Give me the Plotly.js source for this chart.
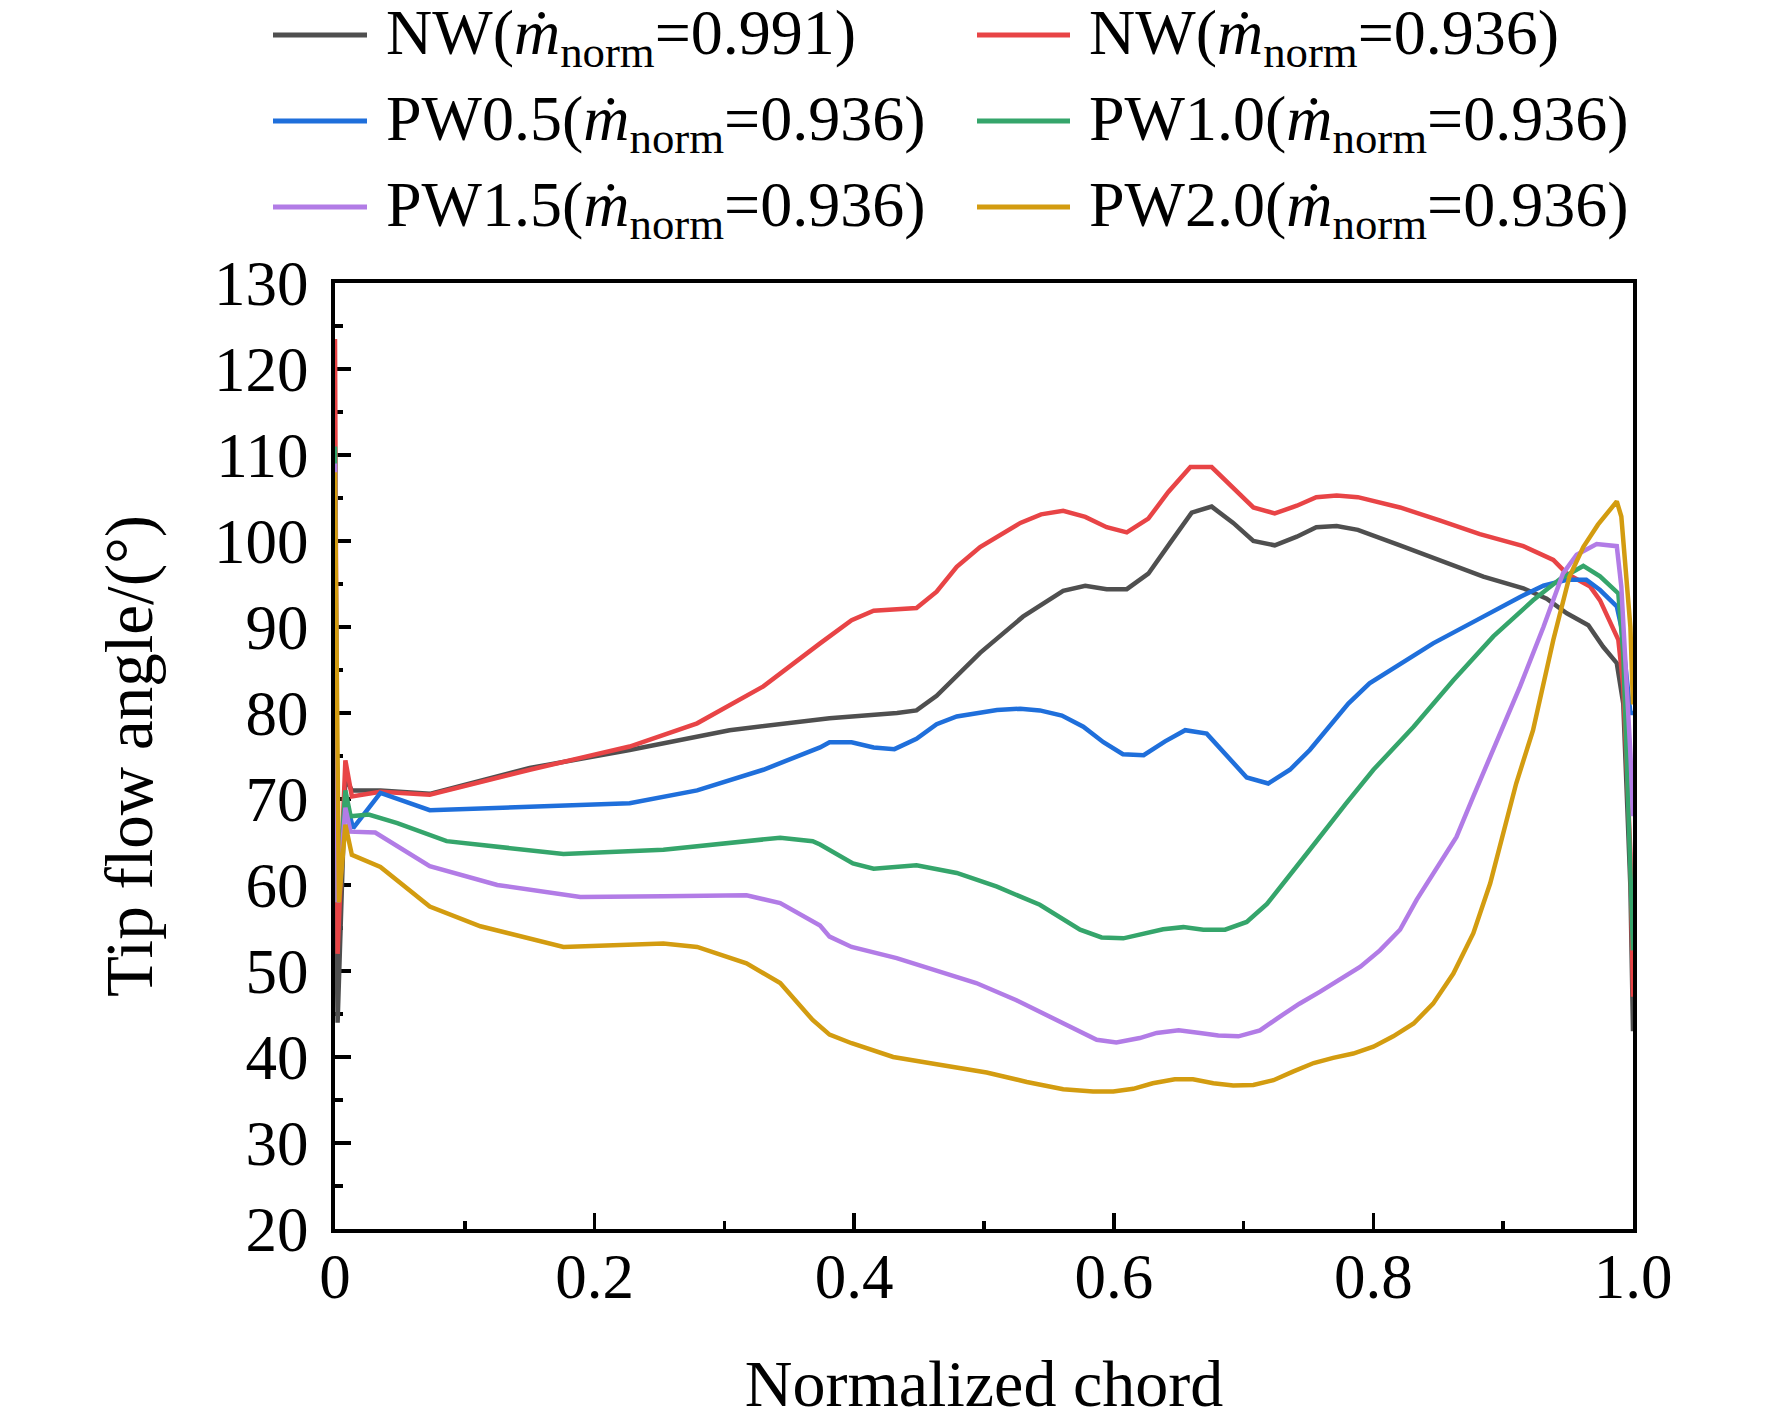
<!DOCTYPE html>
<html>
<head>
<meta charset="utf-8">
<script src="https://cdn.plot.ly/plotly-3.0.1.min.js"></script>
<style>
  html, body { margin: 0; padding: 0; background: #fff; }
  #chart { width: 1772px; height: 1425px; }
</style>
</head>
<body>
<div id="chart"></div>
<script>
// values
const nw991X = [0, 0.002, 0.008, 0.013, 0.035, 0.073, 0.15, 0.227, 0.304, 0.381, 0.433, 0.448, 0.4635, 0.497, 0.53, 0.561, 0.578, 0.5945, 0.61, 0.6266, 0.643, 0.66, 0.6754, 0.692, 0.7075, 0.724, 0.741, 0.756, 0.7717, 0.788, 0.8205, 0.851, 0.8847, 0.9155, 0.9335, 0.949, 0.9656, 0.977, 0.9875, 0.9925, 0.998, 1.0];
const nw991Y = [70, 44, 72.5, 71, 71.0, 70.6, 73.6, 75.7, 78.0, 79.4, 80.0, 80.3, 82.0, 87.0, 91.2, 94.2, 94.8, 94.4, 94.4, 96.2, 99.7, 103.3, 104.0, 102.1, 100.0, 99.5, 100.5, 101.6, 101.75, 101.3, 99.5, 97.8, 95.85, 94.5, 93.3, 91.6, 90.2, 87.7, 85.8, 81.1, 59.8, 43];

const nw936X = [0, 0.002, 0.008, 0.013, 0.035, 0.073, 0.15, 0.227, 0.279, 0.33, 0.3737, 0.398, 0.415, 0.448, 0.4635, 0.479, 0.497, 0.528, 0.544, 0.561, 0.578, 0.5945, 0.61, 0.6266, 0.642, 0.659, 0.6754, 0.692, 0.7075, 0.724, 0.741, 0.756, 0.7717, 0.788, 0.8205, 0.851, 0.882, 0.9155, 0.928, 0.9386, 0.949, 0.967, 0.9746, 0.9887, 0.9925, 0.998, 1.0];
const nw936Y = [123.5, 52, 74.5, 70.3, 70.85, 70.5, 73.4, 76.1, 78.8, 83.1, 88.1, 90.8, 91.9, 92.2, 94.1, 97.0, 99.3, 102.1, 103.1, 103.5, 102.8, 101.6, 101.0, 102.6, 105.7, 108.6, 108.6, 106.1, 103.9, 103.2, 104.1, 105.1, 105.3, 105.1, 103.9, 102.4, 100.8, 99.4, 98.6, 97.8, 96.2, 94.7, 93.1, 88.5, 83.1, 63.7, 47];

const pw05X = [0, 0.003, 0.008, 0.014, 0.035, 0.073, 0.15, 0.227, 0.279, 0.33, 0.3737, 0.381, 0.398, 0.415, 0.431, 0.448, 0.4635, 0.479, 0.51, 0.528, 0.543, 0.56, 0.5765, 0.592, 0.607, 0.623, 0.6395, 0.655, 0.6716, 0.687, 0.7024, 0.719, 0.7357, 0.751, 0.7807, 0.797, 0.815, 0.846, 0.8796, 0.913, 0.931, 0.949, 0.964, 0.9746, 0.9875, 0.991, 0.998, 1.0];
const pw05Y = [88, 60, 70, 66.6, 70.7, 68.7, 69.1, 69.5, 71.0, 73.4, 76.0, 76.6, 76.6, 76.0, 75.8, 77.0, 78.7, 79.6, 80.35, 80.5, 80.3, 79.7, 78.4, 76.6, 75.2, 75.1, 76.7, 78.0, 77.6, 75.0, 72.5, 71.8, 73.4, 75.7, 81.1, 83.45, 85.2, 88.1, 90.8, 93.5, 94.8, 95.5, 95.5, 94.3, 92.4, 90.0, 80, 80];

const pw10X = [0, 0.002, 0.008, 0.012, 0.026, 0.048, 0.086, 0.176, 0.253, 0.343, 0.368, 0.3737, 0.399, 0.415, 0.448, 0.479, 0.51, 0.543, 0.574, 0.5906, 0.6073, 0.638, 0.6536, 0.669, 0.6857, 0.7024, 0.718, 0.733, 0.751, 0.779, 0.8, 0.831, 0.8616, 0.8924, 0.923, 0.944, 0.9617, 0.9746, 0.985, 0.9887, 0.9925, 0.999, 1.0];
const pw10Y = [111, 58, 71, 68, 68.2, 67.2, 65.1, 63.6, 64.1, 65.5, 65.1, 64.7, 62.5, 61.9, 62.3, 61.4, 59.8, 57.7, 54.8, 53.9, 53.8, 54.85, 55.1, 54.8, 54.8, 55.7, 57.8, 60.6, 64.1, 69.5, 73.4, 78.4, 83.8, 88.9, 93.1, 95.6, 97.1, 95.9, 94.3, 93.9, 86.9, 55.9, 52.4];

const pw15X = [0, 0.002, 0.008, 0.012, 0.031, 0.048, 0.073, 0.125, 0.189, 0.253, 0.317, 0.343, 0.3737, 0.381, 0.398, 0.4327, 0.4635, 0.494, 0.525, 0.556, 0.5868, 0.602, 0.62, 0.633, 0.65, 0.6664, 0.6805, 0.696, 0.7126, 0.728, 0.743, 0.759, 0.774, 0.79, 0.805, 0.8205, 0.8334, 0.849, 0.864, 0.877, 0.892, 0.913, 0.931, 0.946, 0.9566, 0.972, 0.9875, 0.991, 0.998, 1.0];
const pw15Y = [109, 58, 69, 66.2, 66.1, 64.5, 62.2, 60.0, 58.6, 58.7, 58.8, 57.9, 55.3, 54.0, 52.8, 51.5, 50.1, 48.6, 46.6, 44.3, 42.0, 41.7, 42.2, 42.8, 43.1, 42.8, 42.5, 42.4, 43.1, 44.7, 46.2, 47.6, 49.0, 50.5, 52.4, 54.8, 58.3, 62.1, 65.6, 70.3, 75.7, 83.1, 90.0, 96.2, 98.4, 99.65, 99.4, 94.7, 75.3, 68];

const pw20X = [0, 0.003, 0.008, 0.013, 0.035, 0.073, 0.112, 0.176, 0.253, 0.279, 0.317, 0.343, 0.368, 0.381, 0.398, 0.43, 0.4635, 0.502, 0.533, 0.561, 0.584, 0.5996, 0.615, 0.63, 0.647, 0.661, 0.6767, 0.692, 0.7075, 0.723, 0.738, 0.754, 0.769, 0.7845, 0.8, 0.8153, 0.831, 0.846, 0.8616, 0.877, 0.89, 0.9, 0.91, 0.923, 0.9386, 0.951, 0.9617, 0.973, 0.9875, 0.991, 0.998, 1.0];
const pw20Y = [108, 58, 67, 63.5, 62.1, 57.5, 55.2, 52.8, 53.2, 52.8, 50.9, 48.6, 44.3, 42.6, 41.6, 40.0, 39.15, 38.2, 37.1, 36.25, 36.0, 36.0, 36.3, 36.95, 37.4, 37.4, 36.95, 36.7, 36.75, 37.3, 38.3, 39.3, 39.9, 40.4, 41.2, 42.4, 43.9, 46.2, 49.7, 54.4, 60.2, 66.0, 71.8, 78.0, 88.5, 95.85, 99.3, 101.9, 104.6, 102.85, 90.0, 81];

const seriesNames = [
  "NW(<i>ṁ</i><sub>norm</sub>=0.991)",
  "NW(<i>ṁ</i><sub>norm</sub>=0.936)",
  "PW0.5(<i>ṁ</i><sub>norm</sub>=0.936)",
  "PW1.0(<i>ṁ</i><sub>norm</sub>=0.936)",
  "PW1.5(<i>ṁ</i><sub>norm</sub>=0.936)",
  "PW2.0(<i>ṁ</i><sub>norm</sub>=0.936)"
];
const seriesColors = ["#4f4f4f", "#e84446", "#1f6fdb", "#35a56b", "#b27ce6", "#d39c10"];
const seriesX = [nw991X, nw936X, pw05X, pw10X, pw15X, pw20X];
const seriesY = [nw991Y, nw936Y, pw05Y, pw10Y, pw15Y, pw20Y];

const xTickVals = [0, 0.2, 0.4, 0.6, 0.8, 1.0];
const xTickText = ["0", "0.2", "0.4", "0.6", "0.8", "1.0"];

const serif = "Liberation Serif, Times New Roman, serif";

// plot box in page pixels
const W = 1772, H = 1425;
const box = { l: 335, r: 1633, t: 283, b: 1229 };
const px2x = (px) => (px - box.l) / (box.r - box.l);
const py2y = (py) => (box.b - py) / (box.b - box.t);

const traces = seriesX.map((xs, i) => ({
  x: xs,
  y: seriesY[i],
  type: "scatter",
  mode: "lines",
  name: seriesNames[i],
  line: { color: seriesColors[i], width: 4.5 },
  showlegend: false,
  cliponaxis: false
}));

// two-column legend with long line samples, built from the series arrays
const legendCols = [{ lineFrom: 273, lineTo: 367, text: 384 }, { lineFrom: 977, lineTo: 1070, text: 1087 }];
const legendRows = [37, 123, 209];
const shapes = [];
const annotations = [];
seriesNames.forEach((name, i) => {
  const col = legendCols[i % 2];
  const row = legendRows[Math.floor(i / 2)];
  shapes.push({
    type: "line", xref: "paper", yref: "paper",
    x0: px2x(col.lineFrom), x1: px2x(col.lineTo), y0: py2y(row - 2), y1: py2y(row - 2),
    line: { color: seriesColors[i], width: 5 }
  });
  annotations.push({
    xref: "paper", yref: "paper", x: px2x(col.text), y: py2y(row),
    xanchor: "left", yanchor: "middle", showarrow: false,
    text: name, font: { family: serif, size: 64, color: "#000" }
  });
});

const layout = {
  width: W,
  height: H,
  margin: { l: box.l, r: W - box.r, t: box.t, b: H - box.b, pad: 0 },
  paper_bgcolor: "#fff",
  plot_bgcolor: "#fff",
  font: { family: serif, color: "#000" },
  showlegend: false,
  xaxis: {
    range: [0, 1],
    tickmode: "array",
    tickvals: xTickVals,
    ticktext: xTickText,
    ticks: "inside",
    ticklen: 16,
    tickwidth: 3.5,
    tickcolor: "#000",
    minor: { tickvals: [0.1, 0.3, 0.5, 0.7, 0.9], ticks: "inside", ticklen: 8, tickwidth: 3.5, tickcolor: "#000" },
    showline: true,
    linewidth: 4,
    linecolor: "#000",
    mirror: true,
    showgrid: false,
    zeroline: false,
    layer: "below traces",
    ticklabelstandoff: -11,
    tickfont: { family: serif, size: 63, color: "#000" },
    title: { text: "Normalized chord", font: { family: serif, size: 66, color: "#000" }, standoff: 50 },
    automargin: true
  },
  yaxis: {
    range: [20, 130],
    tick0: 20,
    dtick: 10,
    ticks: "inside",
    ticklen: 16,
    tickwidth: 3.5,
    tickcolor: "#000",
    minor: { dtick: 5, ticks: "inside", ticklen: 8, tickwidth: 3.5, tickcolor: "#000" },
    showline: true,
    linewidth: 4,
    linecolor: "#000",
    mirror: true,
    showgrid: false,
    zeroline: false,
    layer: "below traces",
    ticklabelstandoff: 10,
    tickfont: { family: serif, size: 63, color: "#000" },
    title: { text: "Tip flow angle/(°)", font: { family: serif, size: 67, color: "#000" }, standoff: 40 },
    automargin: false
  },
  shapes: shapes,
  annotations: annotations
};

Plotly.newPlot("chart", traces, layout, { displayModeBar: false, staticPlot: true });
</script>
</body>
</html>
